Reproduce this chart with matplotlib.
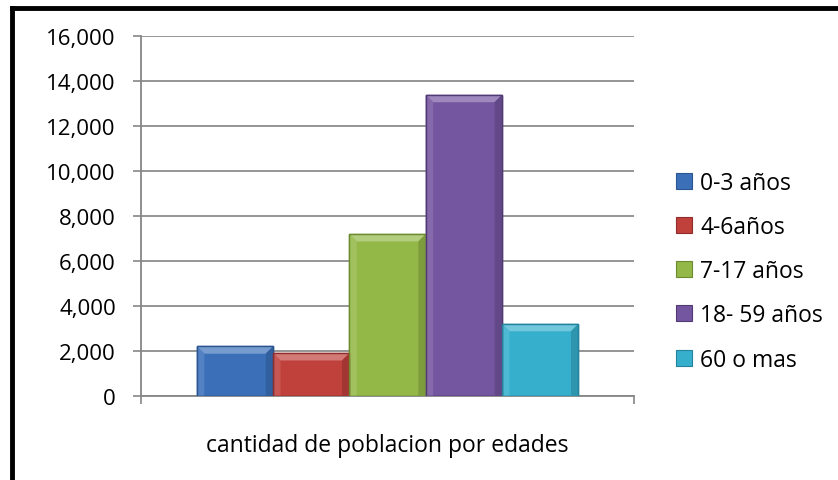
import numpy as np
import matplotlib
matplotlib.use("Agg")
from matplotlib import pyplot as plt
from matplotlib.lines import Line2D
from matplotlib.patches import Polygon
from matplotlib.colors import to_rgb
from matplotlib.ticker import FuncFormatter

# data
category = "cantidad de poblacion por edades"
series = ["0-3 años", "4-6años", "7-17 años", "18- 59 años", "60 o mas"]
values = [2200, 1900, 7200, 13400, 3200]
colors = ["#3b70b9", "#c0403c", "#93b847", "#7455a0", "#36afcd"]
edges = ["#2a5590", "#8f2d2a", "#6c8a30", "#513a73", "#23839c"]
yticks = [0, 2000, 4000, 6000, 8000, 10000, 12000, 14000, 16000]

plt.rcParams["font.family"] = ["Open Sans", "DejaVu Sans"]


def shade(c, f):
    """Lighten (f > 0) or darken (f < 0) a colour."""
    r = np.array(to_rgb(c))
    return tuple(r + (1 - r) * f) if f > 0 else tuple(r * (1 + f))


fig = plt.figure(figsize=(8.38, 4.81), dpi=100)
ax = fig.add_axes([0.168, 0.1752, 0.589, 0.747])

n = len(values)
width = 0.773 / n
offsets = (np.arange(n) - (n - 1) / 2) * width
for off, v, c, e, name in zip(offsets, values, colors, edges, series):
    rect = ax.bar(off, v, width=width, color=c, edgecolor=e, linewidth=1.0,
                  label=name, zorder=3)[0]
    # bevel on the top and sides
    x0, x1 = rect.get_x(), rect.get_x() + rect.get_width()
    top = rect.get_height()
    dx, dy = 0.015, 330
    ax.add_patch(Polygon([(x0, top), (x1, top), (x1 - dx, top - dy), (x0 + dx, top - dy)],
                         facecolor=shade(c, 0.3), edgecolor="none", zorder=4))
    ax.add_patch(Polygon([(x0, 0), (x0, top), (x0 + dx, top - dy), (x0 + dx, 0)],
                         facecolor=shade(c, 0.12), edgecolor="none", zorder=4))
    ax.add_patch(Polygon([(x1, 0), (x1, top), (x1 - dx, top - dy), (x1 - dx, 0)],
                         facecolor=shade(c, -0.15), edgecolor="none", zorder=4))
    ax.bar(off, v, width=width, color="none", edgecolor=e, linewidth=1.0, zorder=5)

ax.set_xlim(-0.5, 0.5)
ax.set_ylim(0, 16000)
ax.set_yticks(yticks)
ax.yaxis.set_major_formatter(FuncFormatter(lambda v, p: f"{int(v):,}"))
ax.set_xticks([-0.5, 0.5])
ax.set_xticklabels([])
ax.tick_params(axis="y", direction="out", length=6, width=1.2, color="#868686",
               labelsize=16, pad=12)
ax.tick_params(axis="x", direction="out", length=6, width=1.2, color="#868686")
ax.grid(axis="y", color="#8c8c8c", linewidth=1.3, zorder=0)
ax.set_axisbelow(True)
for s in ["top", "right"]:
    ax.spines[s].set_visible(False)
for s in ["left", "bottom"]:
    ax.spines[s].set_color("#868686")
    ax.spines[s].set_linewidth(1.3)
ax.set_xlabel(category, fontsize=16.5, labelpad=17)

handles = [plt.Rectangle((0, 0), 1, 1, facecolor=c, edgecolor=e, linewidth=0.8)
           for c, e in zip(colors, edges)]
fig.legend(handles, series, loc="center left", bbox_to_anchor=(0.793, 0.434),
           frameon=False, fontsize=16.5, handlelength=0.7, handleheight=0.7,
           handletextpad=0.35, labelspacing=0.88, borderpad=0)

# outer frame (left and top only)
fig.add_artist(Line2D([0.0148, 0.0148], [0.0, 0.982], color="black", linewidth=3.5,
                      transform=fig.transFigure, solid_capstyle="projecting"))
fig.add_artist(Line2D([0.0148, 1.0], [0.982, 0.982], color="black", linewidth=3.5,
                      transform=fig.transFigure, solid_capstyle="projecting"))

fig.savefig("out.png", dpi=100)
